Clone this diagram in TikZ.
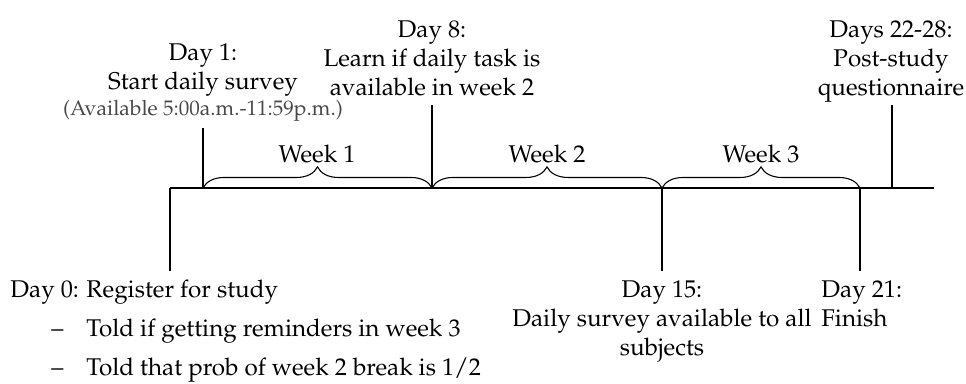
\documentclass[tikz,border=0pt]{standalone}
\usepackage[T1]{fontenc}
\usepackage{mathpazo}
\usetikzlibrary{decorations.pathreplacing}
\definecolor{notegray}{HTML}{484848}
\begin{document}
\begin{tikzpicture}[x=0.413pt,y=-0.413pt,
  lbl/.style={inner sep=0pt,align=center,font=\fontsize{10}{12}\selectfont},
  tick/.style={line width=0.45pt},
  wbrace/.style={decorate,decoration={brace,amplitude=8.7pt,aspect=0.5},line width=0.45pt},
  wlbl/.style={inner sep=0pt,anchor=base,font=\fontsize{10}{12}\selectfont}]
\useasboundingbox (0,0) rectangle (966,383);
% axis points
\coordinate (d0) at (170,188);
\coordinate (d1) at (203,188);
\coordinate (d8) at (432,188);
\coordinate (d15) at (662,188);
\coordinate (d21) at (860,188);
\coordinate (d22) at (892,188);
\coordinate (dend) at (934,188);
% tick ends
\coordinate (t0) at (170,271);
\coordinate (t1) at (203,128);
\coordinate (t8) at (432,105);
\coordinate (t15) at (662,271);
\coordinate (t21) at (860,271);
\coordinate (t22) at (892,105);
% axis
\draw[tick] (d0) -- (dend);
\draw[tick] (d0) -- (t0);
\draw[tick] (d1) -- (t1);
\draw[tick] (d8) -- (t8);
\draw[tick] (d15) -- (t15);
\draw[tick] (d21) -- (t21);
\draw[tick] (d22) -- (t22);
% braces
\draw[wbrace] (d1) -- (d8);
\draw[wbrace] (d8) -- (d15);
\draw[wbrace] (d15) -- (d21);
\node[wlbl] (w1) at (317,162) {Week 1};
\node[wlbl] (w2) at (547,162) {Week 2};
\node[wlbl] (w3) at (761,162) {Week 3};
% top labels
\node[lbl,anchor=north] (l1) at (203,43) {Day 1:\\Start daily survey\\[-1pt]{\color{notegray}\fontsize{8.7}{10}\selectfont (Available 5:00a.m.-11:59p.m.)}};
\node[lbl,anchor=north] (l8) at (432,20) {Day 8:\\Learn if daily task is\\available in week 2};
\node[lbl,anchor=north] (l22) at (891,20) {Days 22-28:\\Post-study\\questionnaire};
% bottom labels
\node[lbl,anchor=base west] (l0) at (10,297) {Day 0: Register for study};
\node[lbl,anchor=base west] (b1a) at (51,336) {\textendash};
\node[lbl,anchor=base west] (b1) at (86,336) {Told if getting reminders in week 3};
\node[lbl,anchor=base west] (b2a) at (51,375) {\textendash};
\node[lbl,anchor=base west] (b2) at (86,375) {Told that prob of week 2 break is 1/2};
\node[lbl,anchor=north] (l15) at (662,280) {Day 15:\\Daily survey available to all\\subjects};
\node[lbl,anchor=north west,align=left] (l21) at (821,280) {Day 21:\\Finish};
\end{tikzpicture}
\end{document}
